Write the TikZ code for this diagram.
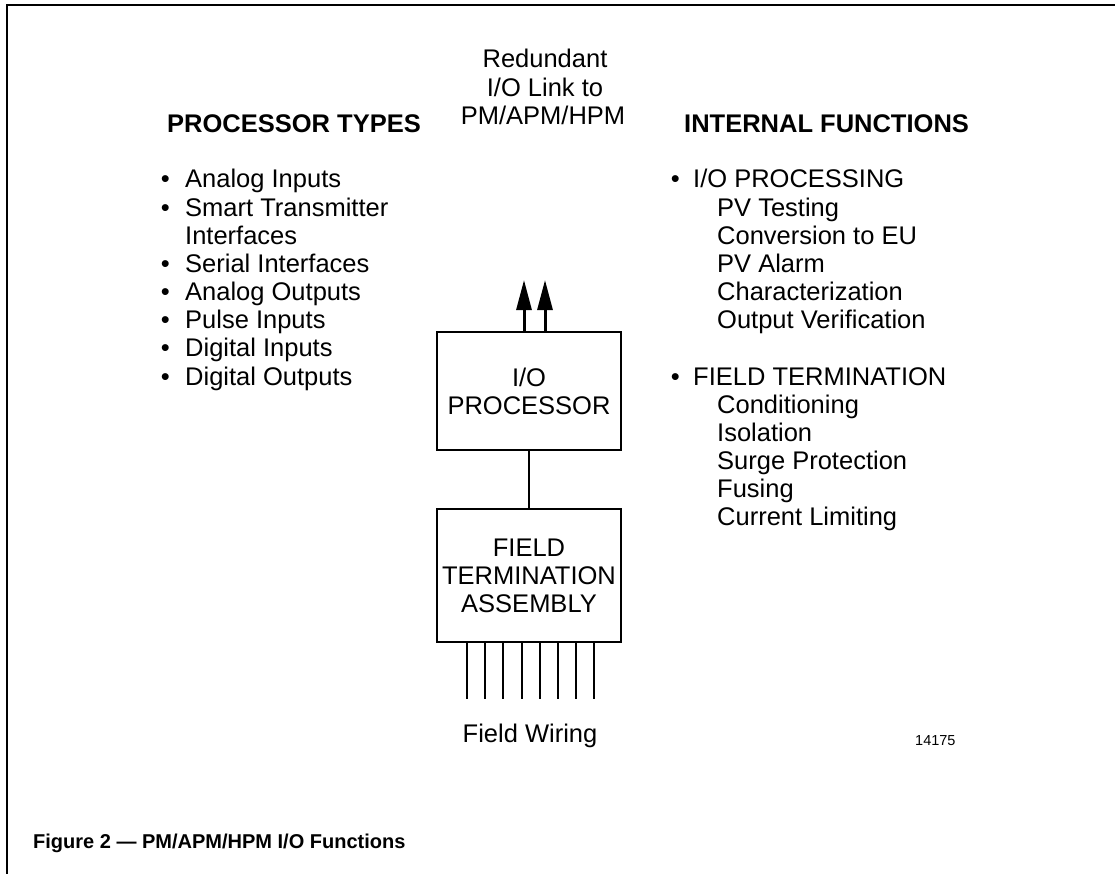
\documentclass[tikz,border=0pt]{standalone}
\usepackage{fontspec}
\setmainfont{Liberation Sans}
\usetikzlibrary{positioning,arrows.meta}
\newcommand{\lbul}{\llap{\textbullet\hspace{15.5pt}}}
\newcommand{\rbul}{\llap{\textbullet\hspace{13.5pt}}}

\begin{document}
\begin{tikzpicture}[x=1pt,y=-1pt,
  txt/.style = {inner sep=0pt, font=\fontsize{25.5}{28.15}\selectfont},
  item/.style = {txt, anchor=base west},
  heading/.style = {item, font=\fontsize{25.5}{28.15}\selectfont\bfseries},
  nextline/.style = {below=28.15pt of #1.base west, anchor=base west},
  box/.style = {draw, txt, line width=2pt, minimum width=184pt, align=center},
  wire/.style = {line width=2pt},
  link/.style = {line width=3pt, -{Triangle[length=30pt,width=15pt]}}]
\useasboundingbox (0,0) rectangle (1115,874);
\draw[line width=2.5pt] (1115,5) -- (7,5) -- (7,874);

\node[txt, anchor=base] (red1) at (545,68) {Redundant};
\node[txt, anchor=base] (red2) at (545,97) {I/O Link to};
\node[txt, anchor=base] (red3) at (543,125) {PM/APM/HPM};

\node[heading] (types) at (167,133) {PROCESSOR TYPES};
\node[item] (t1) at (185,188) {\lbul Analog Inputs};
\node[item, nextline=t1] (t2) {\lbul Smart Transmitter};
\node[item, nextline=t2] (t3) {Interfaces};
\node[item, nextline=t3] (t4) {\lbul Serial Interfaces};
\node[item, nextline=t4] (t5) {\lbul Analog Outputs};
\node[item, nextline=t5] (t6) {\lbul Pulse Inputs};
\node[item, nextline=t6] (t7) {\lbul Digital Inputs};
\node[item, nextline=t7] (t8) {\lbul Digital Outputs};

\node[heading] (funcs) at (684,133) {INTERNAL FUNCTIONS};
\node[item] (f1) at (693,188) {\rbul I/O PROCESSING};
\node[item, nextline=f1, xshift=24pt] (f2) {PV Testing};
\node[item, nextline=f2] (f3) {Conversion to EU};
\node[item, nextline=f3] (f4) {PV Alarm};
\node[item, nextline=f4] (f5) {Characterization};
\node[item, nextline=f5] (f6) {Output Verification};
\node[item, below=56.3pt of f6.base west, anchor=base west, xshift=-24pt] (f7) {\rbul FIELD TERMINATION};
\node[item, nextline=f7, xshift=24pt] (f8) {Conditioning};
\node[item, nextline=f8] (f9) {Isolation};
\node[item, nextline=f9] (f10) {Surge Protection};
\node[item, nextline=f10] (f11) {Fusing};
\node[item, nextline=f11] (f12) {Current Limiting};

\node[box, minimum height=118pt] (iop) at (529,391) {I/O\\PROCESSOR};
\node[box, minimum height=133pt] (fta) [below=57pt of iop] {FIELD\\TERMINATION\\ASSEMBLY};
\draw[wire] (iop) -- (fta);

\coordinate (up1) at (524,280);
\coordinate (up2) at (545,280);
\draw[link] (iop.north -| up1) -- (up1);
\draw[link] (iop.north -| up2) -- (up2);

\coordinate (w1) at (467,699);
\coordinate (w2) at (485.2,699);
\coordinate (w3) at (503.4,699);
\coordinate (w4) at (521.6,699);
\coordinate (w5) at (539.8,699);
\coordinate (w6) at (558,699);
\coordinate (w7) at (576.2,699);
\coordinate (w8) at (594.4,699);
\draw[wire] (fta.south -| w1) -- (w1);
\draw[wire] (fta.south -| w2) -- (w2);
\draw[wire] (fta.south -| w3) -- (w3);
\draw[wire] (fta.south -| w4) -- (w4);
\draw[wire] (fta.south -| w5) -- (w5);
\draw[wire] (fta.south -| w6) -- (w6);
\draw[wire] (fta.south -| w7) -- (w7);
\draw[wire] (fta.south -| w8) -- (w8);

\node[txt, anchor=base] (wiring) at (530,742) {Field Wiring};
\node[item, font=\fontsize{14.5}{17}\selectfont] (num) at (915,745) {14175};
\node[item, font=\fontsize{20}{24}\selectfont\bfseries] (cap) at (33,848) {Figure 2 --- PM/APM/HPM I/O Functions};
\end{tikzpicture}
\end{document}
